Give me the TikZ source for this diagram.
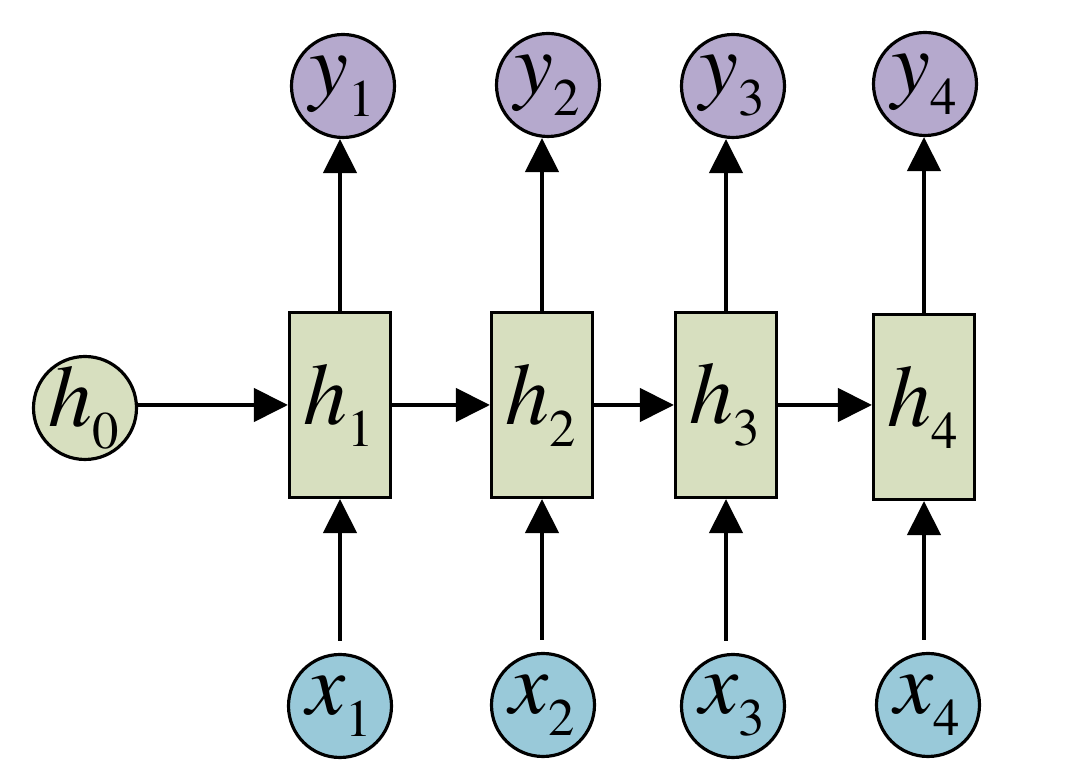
\documentclass[tikz,border=0pt]{standalone}
\usepackage{mathptmx}
\usepackage{tikz}
\usetikzlibrary{arrows.meta}
\usepackage{xcolor}
\DeclareMathSizes{25}{25}{15}{12}
\definecolor{boxgreen}{RGB}{215,223,191}
\definecolor{ypurple}{RGB}{181,169,205}
\definecolor{xblue}{RGB}{153,201,217}
\tikzstyle{line} = [draw, line width=1.3pt, -{Triangle[length=3.4mm,width=3.3mm]}]
\tikzstyle{linein} = [line, shorten <=1.2mm]
\tikzstyle{hbox} = [draw, line width=0.9pt, fill=boxgreen, minimum width=1.01cm, minimum height=1.85cm, inner sep=0pt]
\tikzstyle{unit} = [draw, circle, line width=0.9pt, minimum size=1.03cm, inner sep=0pt]
\newcommand{\lbl}[2]{\makebox[0pt]{$#1_{\lower2.5pt\hbox{$\scriptstyle #2$}}$}}

\begin{document}
\begin{tikzpicture}[every node/.style={font=\fontsize{25}{30}\selectfont}]
		\useasboundingbox (0,0) rectangle (10.85,7.68);
		% hidden states
		\node [unit, fill=boxgreen] (h0) at (0.85,3.60) {\lbl{h}{0}};
		\node [hbox] (h1) at (3.40,3.63) {\lbl{h}{1}};
		\node [hbox] (h2) at (5.42,3.63) {\lbl{h}{2}};
		\node [hbox] (h3) at (7.26,3.63) {\lbl{h}{3}};
		\node [hbox] (h4) at (9.24,3.61) {\lbl{h}{4}};
		% outputs
		\node [unit, fill=ypurple] (y1) at (3.43,6.82) {\lbl{y}{1}};
		\node [unit, fill=ypurple] (y2) at (5.48,6.83) {\lbl{y}{2}};
		\node [unit, fill=ypurple] (y3) at (7.33,6.82) {\lbl{y}{3}};
		\node [unit, fill=ypurple] (y4) at (9.25,6.84) {\lbl{y}{4}};
		% inputs
		\node [unit, fill=xblue] (x1) at (3.40,0.62) {\lbl{x}{1}};
		\node [unit, fill=xblue] (x2) at (5.43,0.63) {\lbl{x}{2}};
		\node [unit, fill=xblue] (x3) at (7.33,0.62) {\lbl{x}{3}};
		\node [unit, fill=xblue] (x4) at (9.28,0.63) {\lbl{x}{4}};
		% recurrence
		\path [line] (h0.east |- h1.west) -- (h1.west);
		\path [line] (h1) -- (h2);
		\path [line] (h2) -- (h3);
		\path [line] (h3) -- (h4.west |- h3.east);
		% h -> y
		\path [line] (h1.north) -- (h1.north |- y1.south);
		\path [line] (h2.north) -- (h2.north |- y2.south);
		\path [line] (h3.north) -- (h3.north |- y3.south);
		\path [line] (h4.north) -- (h4.north |- y4.south);
		% x -> h
		\path [linein] (h1.south |- x1.north) -- (h1.south);
		\path [linein] (h2.south |- x2.north) -- (h2.south);
		\path [linein] (h3.south |- x3.north) -- (h3.south);
		\path [linein] (h4.south |- x4.north) -- (h4.south);
\end{tikzpicture}
\end{document}
